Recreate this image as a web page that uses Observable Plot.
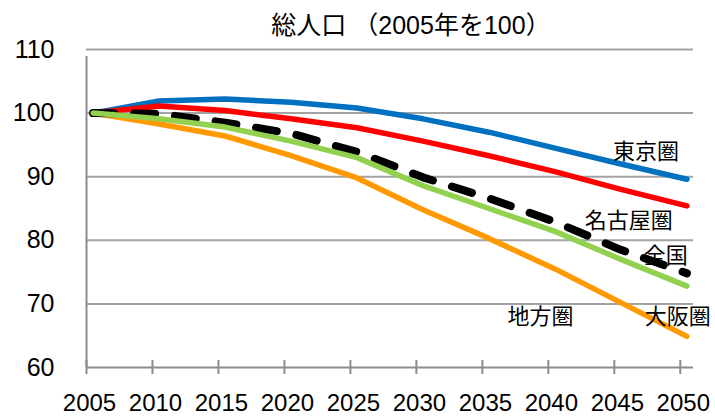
<!DOCTYPE html>
<html>
<head>
<meta charset="utf-8">
<script src="https://cdn.jsdelivr.net/npm/d3@7"></script>
<script src="https://cdn.jsdelivr.net/npm/@observablehq/plot@0.6"></script>
<style>
  body { margin: 0; background: #fff; }
  #wrap { position: relative; width: 715px; height: 417px; }
  #title {
    position: absolute; top: 8px; left: 0; width: 822px; text-align: center;
    font-family: "Liberation Sans", "Noto Sans CJK JP", sans-serif;
    font-size: 25px; line-height: 34px; color: #000; white-space: pre;
  }
  svg { display: block; }
</style>
</head>
<body>
<div id="wrap"><div id="title">総人口 （2005年を100）</div></div>
<script>
// ---- data ----
const years = [2005, 2010, 2015, 2020, 2025, 2030, 2035, 2040, 2045, 2050];
const tokyo  = [100, 101.9, 102.2, 101.7, 100.8, 99.1, 97.0, 94.5, 92.0, 89.6];
const nagoya = [100, 101.1, 100.4, 99.1, 97.7, 95.6, 93.3, 90.8, 88.0, 85.4];
const japan  = [100, 99.9, 98.5, 96.8, 93.9, 89.9, 86.6, 82.9, 78.5, 74.8];
const osaka  = [100, 99.1, 97.8, 95.6, 93.0, 88.6, 85.0, 81.4, 77.0, 72.8];
const chiho  = [100, 98.3, 96.4, 93.3, 89.8, 84.8, 80.3, 75.5, 70.2, 64.9];

const seriesNames = ["東京圏", "名古屋圏", "全国", "大阪圏", "地方圏"];
const yTicks = [60, 70, 80, 90, 100, 110];
const xTickYears = [2005, 2010, 2015, 2020, 2025, 2030, 2035, 2040, 2045, 2050];

// series labels placed as in the reference (year, value)
const labelNames  = ["東京圏", "名古屋圏", "全国", "地方圏", "大阪圏"];
const labelYears  = [2046.9, 2045.6, 2048.4, 2038.9, 2049.3];
const labelValues = [93.9, 83.1, 77.5, 68.0, 68.0];

// ---- build tables ----
const seriesValues = [tokyo, nagoya, japan, osaka, chiho];
const rows = seriesNames.map((name, i) =>
  years.map((year, j) => ({series: name, year, value: seriesValues[i][j]})));
const labels = labelNames.map((t, i) => ({text: t, year: labelYears[i], value: labelValues[i]}));

const font = '"Liberation Sans", "Noto Sans CJK JP", sans-serif';
const lineStyle = {x: "year", y: "value", strokeWidth: 5.5, strokeLinecap: "round", strokeLinejoin: "round"};

const chart = Plot.plot({
  width: 715,
  height: 417,
  marginLeft: 86,
  marginRight: 22,
  marginTop: 49,
  marginBottom: 50,
  style: {fontFamily: font, background: "#fff"},
  x: {domain: [2004.5, 2050.5], axis: null},
  y: {domain: [60, 110], axis: null},
  marks: [
    // gridlines
    Plot.ruleY(yTicks.filter(d => d > 60), {stroke: "#a3a3a3", strokeWidth: 2}),
    // x axis line and ticks
    Plot.ruleY([60], {stroke: "#8c8c8c", strokeWidth: 2}),
    Plot.ruleX(xTickYears, {x: d => d - 0.5, y1: 60, y2: 60, insetTop: -7, insetBottom: -7, stroke: "#8c8c8c", strokeWidth: 2}),
    // y axis line
    Plot.ruleX([2004.5], {y1: 60, y2: 110, insetBottom: -7, stroke: "#8c8c8c", strokeWidth: 2}),
    // tick labels
    Plot.text(xTickYears, {x: d => d - 0.5, y: 60, text: d => String(d), dy: 36, dx: 3, fontSize: 24, fill: "#000"}),
    Plot.text(yTicks, {x: 2004.5, y: d => d, text: d => String(d), textAnchor: "end", dx: -32, fontSize: 25, fill: "#000"}),
    // lines
    Plot.line(rows[0], {...lineStyle, stroke: "#0070C0"}),
    Plot.line(rows[1], {...lineStyle, stroke: "#FF0000"}),
    Plot.line(rows[4], {...lineStyle, stroke: "#FF9900"}),
    Plot.line(rows[2], {...lineStyle, stroke: "#000000", strokeWidth: 8, strokeDasharray: "21,20"}),
    Plot.line(rows[3], {...lineStyle, stroke: "#92D050"}),
    // series labels
    Plot.text(labels, {x: "year", y: "value", text: "text", fontSize: 22, fill: "#000"})
  ]
});
document.getElementById("wrap").prepend(chart);
</script>
</body>
</html>
